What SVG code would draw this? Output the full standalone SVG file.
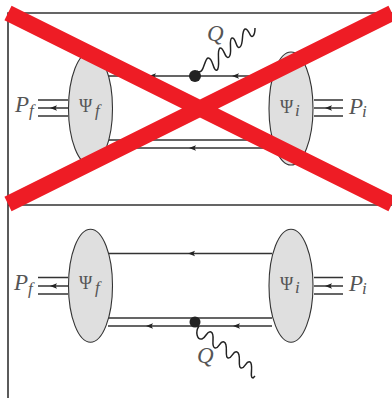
<svg xmlns="http://www.w3.org/2000/svg" width="392" height="398" viewBox="0 0 392 398">
<style>
.l{stroke:#333;stroke-width:1.4;fill:none}
.f{stroke:#333;stroke-width:1.6;fill:none}
.b{fill:#dfdfdf;stroke:#333;stroke-width:1.1}
.w{stroke:#222;stroke-width:1.5;fill:none}
.t{font-family:"Liberation Serif",serif;font-style:italic;fill:#555;font-size:23px}
.s{font-family:"Liberation Serif",serif;font-style:italic;fill:#555;font-size:17px}
.p{font-family:"Liberation Serif",serif;fill:#555;font-size:18px}
.r{stroke:#ee1c25;stroke-width:16;fill:none}
</style>
<g id="frame"><path class="f" d="M8 398V13H392M8 205H392"/></g>
<g id="connectors">
<path class="l" d="M108 76H272M108 140H272M108 148H272M38 100H68M38 108H68M38 116H68M314 100H343M314 108H343M314 116H343"/>
<path class="l" d="M108 253.500H272M108 318H272M108 326H272M38 277.500H68M38 286H68M38 294H68M314 277.500H343M314 286H343M314 294H343"/>
<g fill="#222">
<path d="M149 76l7-2.700-1.500 2.700 1.500 2.700zM232 76l7-2.700-1.500 2.700 1.500 2.700zM189 148l7-2.700-1.500 2.700 1.500 2.700zM50 108l7-2.700-1.500 2.700 1.500 2.700zM325 108l7-2.700-1.500 2.700 1.500 2.700z"/>
<path d="M188 253.500l7-2.700-1.500 2.700 1.500 2.700zM146 326l7-2.700-1.500 2.700 1.500 2.700zM233 326l7-2.700-1.500 2.700 1.500 2.700zM50 286l7-2.700-1.500 2.700 1.500 2.700zM325 286l7-2.700-1.500 2.700 1.500 2.700z"/>
</g>
<path class="w" d="M197 71C204 76 204 59 208 58C213 57 213 72 217 70C221 68 216 50 220 48C224 47 225 60 229 57C233 54 228 39 232 38C236 37 236 50 240 47C244 44 241 31 245 29C249 28 250 39 253 36C254 35 255 31 255 28"/>
<path class="w" d="M199 326C195 332 197 340 202 339C206 338 207 330 211 332C216 334 210 347 215 348C219 349 220 340 224 342C229 344 224 357 228 358C232 359 233 350 237 352C242 354 237 367 241 368C245 369 246 360 250 362C254 364 249 378 253 378L255 376"/>
</g>
<g id="psi-f-top"><ellipse class="b" cx="90.500" cy="108.500" rx="22" ry="56.500"/><text class="p" x="79" y="112">Ψ</text><text class="s" x="95" y="116">f</text></g>
<g id="psi-i-top"><ellipse class="b" cx="291" cy="108.500" rx="22" ry="56.500"/><text class="p" x="280" y="113">Ψ</text><text class="s" x="295" y="116">i</text></g>
<g id="psi-f-bottom"><ellipse class="b" cx="90.500" cy="285.700" rx="22" ry="56.500"/><text class="p" x="79" y="289">Ψ</text><text class="s" x="95" y="293">f</text></g>
<g id="psi-i-bottom"><ellipse class="b" cx="291" cy="285.700" rx="22" ry="56.500"/><text class="p" x="280" y="290">Ψ</text><text class="s" x="295" y="293">i</text></g>
<g id="pf-top"><text class="t" x="15" y="112">P</text><text class="s" x="29" y="116">f</text></g>
<g id="pi-top"><text class="t" x="349" y="114">P</text><text class="s" x="362" y="117">i</text></g>
<g id="pf-bottom"><text class="t" x="14" y="290">P</text><text class="s" x="28" y="294">f</text></g>
<g id="pi-bottom"><text class="t" x="349" y="291">P</text><text class="s" x="362" y="294">i</text></g>
<g id="q-top"><text class="t" x="207" y="41">Q</text></g>
<g id="q-bottom"><text class="t" x="197" y="363">Q</text></g>
<g id="vertex-top"><circle cx="195" cy="76" r="6" fill="#222"/></g>
<g id="vertex-bottom"><circle cx="195" cy="322" r="5.500" fill="#222"/></g>
<g id="cross"><path class="r" d="M8 13L392 204M8 204L392 13"/></g>
</svg>
